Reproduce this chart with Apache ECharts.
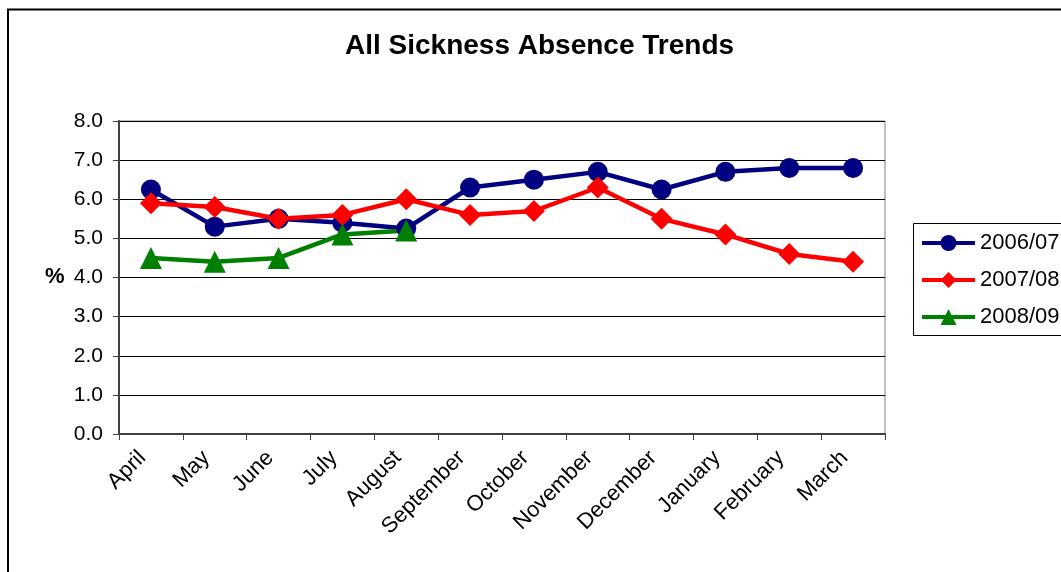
<!DOCTYPE html>
<html>
<head>
<meta charset="utf-8">
<title>All Sickness Absence Trends</title>
<script src="https://cdn.jsdelivr.net/npm/echarts@6/dist/echarts.min.js"></script>
<style>
  html, body { margin: 0; padding: 0; background: #fff; }
  #chart { width: 1061px; height: 572px; }
</style>
</head>
<body>
<div id="chart"></div>
<script>
// Months of the reporting year (April to March)
const months = ['April', 'May', 'June', 'July', 'August', 'September',
  'October', 'November', 'December', 'January', 'February', 'March'];

// Sickness absence rate (%) per month for each year
const y2006_07 = [6.25, 5.3, 5.5, 5.4, 5.25, 6.3, 6.5, 6.7, 6.25, 6.7, 6.8, 6.8];
const y2007_08 = [5.9, 5.8, 5.5, 5.6, 6.0, 5.6, 5.7, 6.3, 5.5, 5.1, 4.6, 4.4];
const y2008_09 = [4.5, 4.4, 4.5, 5.1, 5.2];

const seriesNames = ['2006/07', '2007/08', '2008/09'];
const yTicks = [0, 1, 2, 3, 4, 5, 6, 7, 8];

const FONT = '"Liberation Sans", Arial, sans-serif';

const chart = echarts.init(document.getElementById('chart'), null, { renderer: 'canvas' });

chart.setOption({
  animation: false,
  backgroundColor: '#ffffff',
  textStyle: { fontFamily: FONT },
  title: {
    text: 'All Sickness Absence Trends',
    left: 345,
    top: 32,
    padding: 0,
    textStyle: { fontFamily: FONT, fontSize: 28, fontWeight: 'bold', color: '#000' }
  },
  grid: {
    left: 119, right: 176, top: 121, bottom: 138,
    show: true,
    borderColor: '#808080',
    borderWidth: 1,
    backgroundColor: 'transparent'
  },
  legend: {
    orient: 'vertical',
    left: 920,
    top: 232,
    itemWidth: 53,
    itemHeight: 20,
    itemGap: 15,
    padding: 0,
    data: seriesNames,
    lineStyle: { width: 4 },
    textStyle: { fontFamily: FONT, fontSize: 22, color: '#000', lineHeight: 22 }
  },
  xAxis: {
    type: 'category',
    data: months,
    boundaryGap: true,
    axisLine: { lineStyle: { color: '#404040', width: 2 } },
    axisTick: { show: true, length: 6, inside: false, lineStyle: { color: '#404040', width: 1 } },
    axisLabel: {
      interval: 0,
      rotate: 45,
      margin: 12,
      padding: [0, 12, 0, 0],
      fontFamily: FONT,
      fontSize: 22,
      color: '#000'
    },
    splitLine: { show: false }
  },
  yAxis: {
    type: 'value',
    min: yTicks[0],
    max: yTicks[yTicks.length - 1],
    interval: 1,
    axisLine: { show: true, lineStyle: { color: '#404040', width: 2 } },
    axisTick: { show: true, length: 6, inside: false, lineStyle: { color: '#404040', width: 1 } },
    axisLabel: {
      margin: 16,
      fontFamily: FONT,
      fontSize: 21,
      color: '#000',
      formatter: v => v.toFixed(1)
    },
    splitLine: { show: true, lineStyle: { color: '#000', width: 1 } }
  },
  series: [
    {
      name: seriesNames[0],
      type: 'line',
      data: y2006_07,
      symbol: 'circle',
      symbolSize: 20,
      color: '#000080',
      lineStyle: { color: '#000080', width: 4.5 },
      itemStyle: { color: '#000080' }
    },
    {
      name: seriesNames[1],
      type: 'line',
      data: y2007_08,
      symbol: 'diamond',
      symbolSize: 22,
      color: '#ff0000',
      lineStyle: { color: '#ff0000', width: 4.5 },
      itemStyle: { color: '#ff0000' }
    },
    {
      name: seriesNames[2],
      type: 'line',
      data: y2008_09,
      symbol: 'triangle',
      symbolSize: 22,
      color: '#008000',
      lineStyle: { color: '#008000', width: 4.5 },
      itemStyle: { color: '#008000' }
    }
  ],
  graphic: [
    // Outer chart frame
    {
      type: 'rect',
      silent: true,
      shape: { x: 8, y: 9.5, width: 1200, height: 700 },
      style: { fill: 'none', stroke: '#000', lineWidth: 2 }
    },
    // Legend frame
    {
      type: 'rect',
      silent: true,
      shape: { x: 913.5, y: 223.5, width: 300, height: 112 },
      style: { fill: 'none', stroke: '#000', lineWidth: 1 }
    },
    // Value axis unit
    {
      type: 'text',
      silent: true,
      style: {
        x: 45, y: 277,
        text: '%',
        fontFamily: FONT,
        fontSize: 22,
        fontWeight: 'bold',
        fill: '#000',
        verticalAlign: 'middle'
      }
    }
  ]
});
</script>
</body>
</html>
